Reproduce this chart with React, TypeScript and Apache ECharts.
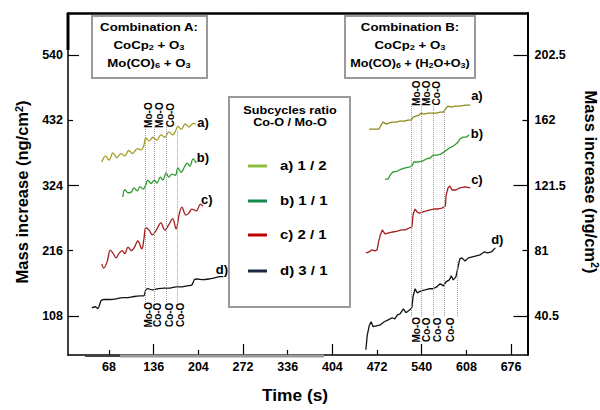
import React, { useEffect, useRef } from "react";
import * as echarts from "echarts";

const FONT = "Liberation Sans, Arial, Helvetica, sans-serif";

// ---- axis ticks ----
const xTickValues = [68, 136, 204, 272, 340, 408, 476, 544, 612, 680];
const xTickLabels = ["68", "136", "204", "272", "336", "404", "472", "540", "608", "676"];
const xMajorTicks = [136, 272, 408, 544, 680];
const xMinorTicks = [68, 204, 340, 476, 612];
const leftTickValues = [108, 216, 324, 432, 540];
const leftMajorTicks = [108, 324, 540];
const leftMinorTicks = [216, 432];
const rightTickValues = [40.5, 81, 121.5, 162, 202.5];
const rightMajorTicks = [40.5, 121.5, 202.5];
const rightMinorTicks = [81, 162];

// ---- Combination A (left axis, ng/cm2) ----
const timeA_a = [57, 63, 68, 74, 80, 86, 92, 98, 104, 111, 117, 121, 124, 129, 135, 141, 147, 153, 159, 165, 170, 173, 178, 184, 190, 196, 200];
const massA_a = [363, 373, 366, 378, 370, 377, 373, 382, 377, 385, 383, 390, 403, 398, 404, 399, 408, 404, 413, 408, 416, 422, 417, 426, 421, 427, 426];
const timeA_b = [89, 92, 97, 102, 106, 111, 115, 120, 124, 127, 132, 137, 141, 146, 150, 155, 159, 164, 169, 173, 178, 182, 187, 191, 196, 201];
const massA_b = [305, 317, 312, 313, 320, 315, 322, 318, 325, 333, 327, 333, 328, 338, 333, 345, 338, 343, 341, 353, 346, 353, 361, 356, 368, 361];
const timeA_c = [57, 60, 65, 70, 74, 79, 83, 88, 92, 97, 102, 106, 112, 118, 121, 124, 129, 134, 140, 147, 153, 159, 165, 170, 175, 179, 185, 190, 194, 201, 207, 211];
const massA_c = [194, 187, 197, 217, 212, 204, 211, 216, 211, 222, 216, 220, 232, 219, 234, 254, 250, 242, 250, 262, 250, 259, 269, 252, 277, 288, 275, 279, 285, 282, 293, 290];
const timeA_d = [42, 47, 51, 56, 60, 70, 79, 88, 97, 106, 115, 121, 124, 127, 134, 143, 152, 161, 170, 179, 188, 194, 198, 202, 211, 220, 229, 237, 242];
const massA_d = [121, 123, 120, 133, 135, 135, 136, 138, 138, 140, 141, 141, 151, 153, 151, 153, 154, 154, 156, 156, 158, 159, 168, 169, 168, 169, 171, 173, 173];

// ---- Combination B (right axis, ng/cm2) ----
const timeB_a = [464, 471, 479, 482, 485, 490, 494, 499, 505, 511, 517, 523, 528, 531, 535, 540, 543, 548, 554, 560, 566, 572, 577, 581, 584, 589, 595, 602, 610, 618];
const massB_a = [156.6, 156.6, 156.6, 159.0, 160.9, 159.7, 160.3, 160.9, 160.9, 161.5, 161.5, 162.2, 162.2, 164.0, 164.6, 165.3, 166.5, 165.9, 166.5, 166.5, 166.5, 167.1, 167.1, 169.6, 170.8, 170.2, 170.8, 170.8, 171.5, 171.5];
const timeB_b = [488, 493, 496, 500, 507, 513, 519, 525, 529, 532, 538, 545, 551, 557, 561, 567, 573, 580, 586, 592, 598, 602, 607, 612, 616];
const massB_b = [125.5, 125.5, 128.0, 129.9, 130.5, 131.7, 132.4, 133.0, 133.6, 136.1, 136.1, 136.7, 138.0, 138.6, 140.4, 140.4, 141.0, 142.9, 144.8, 146.0, 147.9, 150.4, 151.6, 151.6, 152.9];
const timeB_c = [459, 464, 468, 473, 476, 478, 481, 484, 488, 494, 500, 507, 513, 519, 525, 529, 531, 534, 537, 540, 545, 551, 557, 563, 569, 575, 580, 581, 584, 587, 590, 596, 602, 610, 618];
const massB_c = [79.6, 80.2, 81.5, 80.9, 81.5, 85.8, 90.8, 93.9, 91.4, 92.0, 92.6, 93.2, 93.9, 93.9, 95.1, 95.7, 103.8, 106.9, 105.0, 104.4, 105.0, 105.7, 106.3, 106.9, 106.9, 107.5, 108.8, 115.0, 120.0, 121.2, 118.7, 118.7, 120.0, 120.6, 120.0];
const timeB_d = [459, 461, 464, 467, 470, 475, 481, 487, 493, 499, 503, 507, 511, 516, 520, 526, 529, 531, 534, 537, 543, 549, 555, 561, 567, 572, 577, 581, 586, 589, 592, 596, 599, 602, 605, 610, 615, 621, 627, 633, 639, 644, 650, 656];
const massB_d = [19.4, 28.1, 34.3, 36.8, 33.7, 34.3, 34.9, 36.8, 38.0, 39.3, 38.6, 41.1, 41.7, 44.8, 42.4, 44.2, 45.5, 52.9, 57.3, 54.8, 56.0, 56.6, 57.3, 57.3, 58.5, 60.4, 59.1, 61.6, 62.8, 65.3, 62.8, 64.7, 70.3, 75.9, 76.5, 74.6, 76.5, 77.1, 77.7, 78.4, 80.2, 79.6, 80.2, 82.7];

// ---- subcycle markers: [time, top, bottom] ----
const cycleLinesA = [[122.8, 421, 129.5], [136.5, 421, 129.5], [154.8, 421, 129.5], [171.5, 414, 129.5]];
const cycleLinesB = [[527.8, 172.1, 39.9], [543.0, 172.1, 39.9], [561.3, 172.1, 39.9], [578.0, 168.4, 39.9], [597.8, 74.0, 39.9]];
const topLabelsA: [number, number, string][] = [[128.1, 440.7, "Mo-O"], [145.6, 440.7, "Mo-O"], [161.6, 440.7, "Co-O"]];
const bottomLabelsA: [number, number, string][] = [[128.1, 109.6, "Mo-O"], [141.8, 109.6, "Co-O"], [159.4, 109.6, "Co-O"], [176.9, 109.6, "Co-O"]];
const topLabelsB: [number, number, string][] = [[535.4, 178.9, "Mo-O"], [550.6, 178.9, "Mo-O"], [565.8, 178.9, "Co-O"]];
const bottomLabelsB: [number, number, string][] = [[535.4, 31.8, "Mo-O"], [550.6, 31.8, "Co-O"], [568.1, 31.8, "Co-O"], [587.1, 31.8, "Co-O"]];
const curveTagsA: [number, number, string][] = [[211, 429, "a)"], [211, 370, "b)"], [217, 300, "c)"], [240, 184, "d)"]];
const curveTagsB: [number, number, string][] = [[628, 177.7, "a)"], [628, 154.1, "b)"], [628, 125.5, "c)"], [659, 87.7, "d)"]];

const legendNames = ["a) 1 / 2", "b) 1 / 1", "c) 2 / 1", "d) 3 / 1"];
const legendColors = ["#8cbc3c", "#17894d", "#c00000", "#1b2940"];
const curveColors = ["#a39d22", "#2e9b2e", "#a51d1d", "#111111"];

const zip = (t: number[], v: number[]) => t.map((x, i) => [x, v[i]]);

function lineSeries(name: string, t: number[], v: number[], color: string, yIdx: number, smooth: number | boolean) {
  return {
    type: "line",
    name,
    xAxisIndex: 0,
    yAxisIndex: yIdx,
    data: zip(t, v),
    showSymbol: false,
    symbol: "none",
    smooth,
    lineStyle: { color, width: 1.3 },
    itemStyle: { color },
    silent: true,
    z: 3,
  };
}

function textSeries(items: [number, number, string][], yIdx: number, fontSize: number, rotate: number, lines?: number[][]) {
  const s: any = {
    type: "scatter",
    xAxisIndex: 0,
    yAxisIndex: yIdx,
    symbolSize: 1,
    itemStyle: { color: "rgba(255,255,255,0)" },
    silent: true,
    z: 4,
    data: items.map(([t, v, n]) => ({ name: n, value: [t, v] })),
    label: {
      show: true,
      position: "inside",
      formatter: "{b}",
      rotate,
      color: "#000",
      opacity: 1,
      textBorderWidth: 0,
      textBorderColor: "transparent",
      fontSize,
      fontWeight: "bold",
      fontFamily: FONT,
    },
  };
  if (lines) {
    s.markLine = {
      silent: true,
      symbol: ["none", "none"],
      label: { show: false },
      lineStyle: { type: "dotted", color: "#9a9a9a", width: 1 },
      data: lines.map(([t, a, b]) => [{ coord: [t, a] }, { coord: [t, b] }]),
    };
  }
  return s;
}

const boldTxt = (x: number, y: number, text: string, size: number, extra: any = {}) => ({
  type: "text",
  x,
  y,
  scaleX: extra.scaleX ?? 1.2,
  rotation: extra.rotation ?? 0,
  z: 20,
  style: {
    text,
    fill: "#000",
    fontSize: size,
    fontWeight: "bold",
    fontFamily: FONT,
    align: extra.align ?? "center",
    verticalAlign: "middle",
    rich: {
      s: { fontSize: size * 0.7, fontWeight: "bold", fontFamily: FONT, fill: "#000", padding: [5, 0, 0, 0] },
      u: { fontSize: size * 0.65, fontWeight: "bold", fontFamily: FONT, fill: "#000", padding: [0, 0, 7, 0] },
    },
  },
});

export default function App() {
  const ref = useRef<HTMLDivElement>(null);
  useEffect(() => {
    const chart = echarts.init(ref.current!, null, { renderer: "svg" });
    const axisLab = { color: "#000", fontSize: 12.5, fontWeight: "bold", fontFamily: FONT };
    const option: any = {
      animation: false,
      backgroundColor: "#fff",
      grid: { left: 68, right: 72.5, top: 13, bottom: 55, show: false },
      xAxis: [
        {
          type: "value", position: "bottom", min: 5.6, max: 705,
          axisLine: { show: true, lineStyle: { color: "#000", width: 1.5 } },
          axisTick: { show: true, inside: true, length: 11, customValues: xMajorTicks, lineStyle: { color: "#000", width: 1.2 } },
          axisLabel: { ...axisLab, margin: 5, customValues: xTickValues, formatter: (v: number) => xTickLabels[xTickValues.indexOf(v)] ?? "" },
          splitLine: { show: false },
        },
        {
          type: "value", position: "bottom", min: 5.6, max: 705,
          axisLine: { show: false },
          axisTick: { show: true, inside: true, length: 5, customValues: xMinorTicks, lineStyle: { color: "#000", width: 1.2 } },
          axisLabel: { show: false },
          splitLine: { show: false },
        },
        {
          type: "value", position: "top", min: 5.6, max: 705,
          axisLine: { show: true, lineStyle: { color: "#000", width: 2.5 } },
          axisTick: { show: false },
          axisLabel: { show: false },
          splitLine: { show: false },
        },
      ],
      yAxis: [
        {
          type: "value", position: "left", min: 43, max: 610,
          axisLine: { show: true, lineStyle: { color: "#000", width: 1.5 } },
          axisTick: { show: true, inside: true, length: 11, customValues: leftMajorTicks, lineStyle: { color: "#000", width: 1.2 } },
          axisLabel: { ...axisLab, margin: 5, customValues: leftTickValues },
          splitLine: { show: false },
        },
        {
          type: "value", position: "right", min: 16.125, max: 228.75,
          axisLine: { show: true, lineStyle: { color: "#000", width: 2 } },
          axisTick: { show: true, inside: true, length: 14, customValues: rightMajorTicks, lineStyle: { color: "#000", width: 1.2 } },
          axisLabel: { ...axisLab, margin: 7, customValues: rightTickValues },
          splitLine: { show: false },
        },
        {
          type: "value", position: "left", min: 43, max: 610,
          axisLine: { show: false },
          axisTick: { show: true, inside: true, length: 5, customValues: leftMinorTicks, lineStyle: { color: "#000", width: 1.2 } },
          axisLabel: { show: false },
          splitLine: { show: false },
        },
        {
          type: "value", position: "right", min: 16.125, max: 228.75,
          axisLine: { show: false },
          axisTick: { show: true, inside: true, length: 5, customValues: rightMinorTicks, lineStyle: { color: "#000", width: 1.2 } },
          axisLabel: { show: false },
          splitLine: { show: false },
        },
      ],
      series: [
        lineSeries(legendNames[0], timeA_a, massA_a, curveColors[0], 0, 0.35),
        lineSeries(legendNames[1], timeA_b, massA_b, curveColors[1], 0, 0.35),
        lineSeries(legendNames[2], timeA_c, massA_c, curveColors[2], 0, 0.35),
        lineSeries(legendNames[3], timeA_d, massA_d, curveColors[3], 0, 0.2),
        lineSeries(legendNames[0], timeB_a, massB_a, "#8f8a1c", 1, false),
        lineSeries(legendNames[1], timeB_b, massB_b, curveColors[1], 1, false),
        lineSeries(legendNames[2], timeB_c, massB_c, curveColors[2], 1, false),
        lineSeries(legendNames[3], timeB_d, massB_d, curveColors[3], 1, false),
        textSeries(topLabelsA, 0, 10, 90, cycleLinesA),
        textSeries(bottomLabelsA, 0, 10, 90),
        textSeries(topLabelsB, 1, 10, 90, cycleLinesB),
        textSeries(bottomLabelsB, 1, 10, 90),
        textSeries(curveTagsA, 0, 13, 0),
        textSeries(curveTagsB, 1, 13, 0),
      ],
      graphic: [
        // bottom axis shading bars
        { type: "line", z: 1, shape: { x1: 85, y1: 356, x2: 120, y2: 356 }, style: { stroke: "#444", lineWidth: 2 } },
        { type: "line", z: 1, shape: { x1: 120, y1: 356, x2: 324, y2: 356 }, style: { stroke: "#9a9a9a", lineWidth: 3 } },
        { type: "line", z: 1, shape: { x1: 68, y1: 13, x2: 68, y2: 50 }, style: { stroke: "#000", lineWidth: 3 } },
        // Combination A box
        { type: "rect", z: 10, shape: { x: 92, y: 16, width: 115, height: 62 }, style: { fill: "#fff", stroke: "#9a9a9a", lineWidth: 2 } },
        boldTxt(149, 27, "Combination A:", 11.5, { scaleX: 1.15 }),
        boldTxt(149, 45, "CoCp{s|2} + O{s|3}", 11.5, { scaleX: 1.15 }),
        boldTxt(149, 63, "Mo(CO){s|6} + O{s|3}", 11.5, { scaleX: 1.15 }),
        // Combination B box
        { type: "rect", z: 10, shape: { x: 345, y: 16, width: 130, height: 62 }, style: { fill: "#fff", stroke: "#9a9a9a", lineWidth: 2 } },
        boldTxt(410, 27, "Combination B:", 11.5, { scaleX: 1.15 }),
        boldTxt(410, 45, "CoCp{s|2} + O{s|3}", 11.5, { scaleX: 1.15 }),
        boldTxt(410, 63, "Mo(CO){s|6} + (H{s|2}O+O{s|3})", 11.5, { scaleX: 1.1 }),
        // legend box
        { type: "rect", z: 10, shape: { x: 229, y: 97, width: 121, height: 210 }, style: { fill: "#fff", stroke: "#9a9a9a", lineWidth: 2 } },
        boldTxt(290, 110, "Subcycles ratio", 11.5, { scaleX: 1.1 }),
        boldTxt(290, 122, "Co-O / Mo-O", 11.5, { scaleX: 1.1 }),
        ...legendNames.map((n, i) => ({
          type: "line", z: 21,
          shape: { x1: 248, y1: [166, 201, 235, 271][i], x2: 267, y2: [166, 201, 235, 271][i] },
          style: { stroke: legendColors[i], lineWidth: 3 },
        })),
        ...legendNames.map((n, i) => boldTxt(280, [166, 201, 235, 271][i], n, 12.5, { align: "left", scaleX: 1.2 })),
        // axis names
        boldTxt(22, 192, "Mass increase (ng/cm{u|2})", 16.5, { rotation: Math.PI / 2, scaleX: 1 }),
        boldTxt(591, 182, "Mass increase (ng/cm{u|2})", 16.5, { rotation: -Math.PI / 2, scaleX: 1 }),
        boldTxt(295, 396, "Time (s)", 16.5, { scaleX: 1.05 }),
      ],
    };
    chart.setOption(option);
    return () => chart.dispose();
  }, []);
  return <div ref={ref} style={{ position: "fixed", left: 0, top: 0, width: 600, height: 410 }} />;
}
